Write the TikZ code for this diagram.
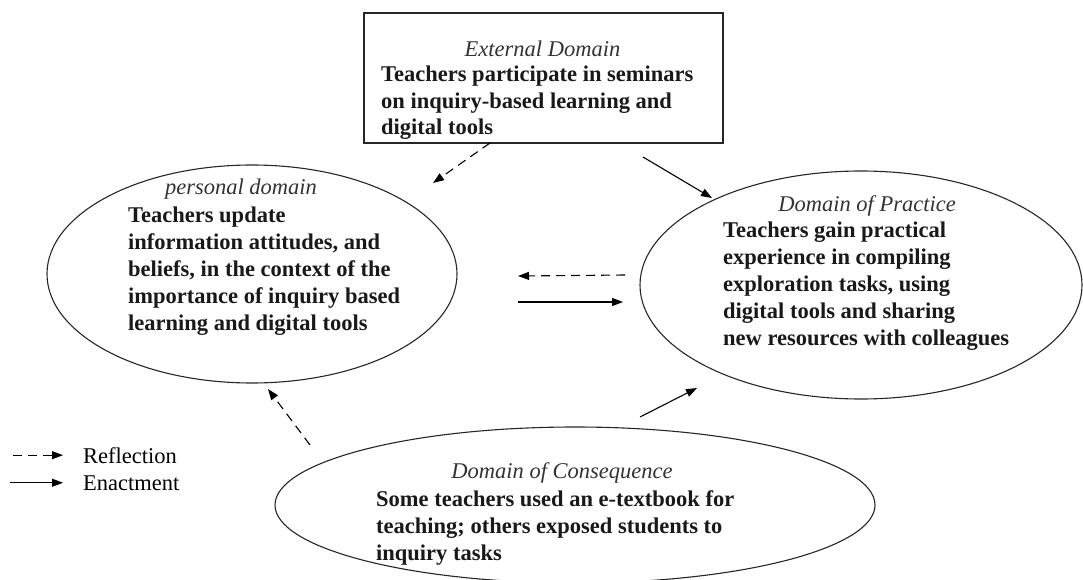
\documentclass[tikz,border=0pt]{standalone}
\usepackage{fontspec}
\setmainfont{Liberation Serif}
\usetikzlibrary{arrows.meta}
\usetikzlibrary{shapes.geometric}
\tikzset{domshape/.style={draw=black!85, line width=1.1pt, inner sep=0pt, outer sep=0pt},
	domtitle/.style={anchor=base, inner sep=0pt, font=\fontsize{22.5}{27}\selectfont\itshape, text=black!80},
	domtext/.style={anchor=base west, inner sep=0pt, align=left, font=\fontsize{22.5}{27}\selectfont\bfseries, text=black!90},
	reflect/.style={line width=1.1pt, dash pattern=on 9pt off 6pt, -{Triangle[length=11pt,width=8pt]}},
	enact/.style={line width=1.1pt, -{Triangle[length=11pt,width=8pt]}}}

\begin{document}
\begin{tikzpicture}[x=1pt,y=-1pt]
	\useasboundingbox (0,0) rectangle (1083,580);
	% domains
	\node[domshape, rectangle, minimum width=359pt, minimum height=130pt] (extdom) at (543.5,78) {};
	\node[domshape, ellipse, minimum width=410pt, minimum height=218pt] (persdom) at (252,274) {};
	\node[domshape, ellipse, minimum width=442pt, minimum height=228pt] (pracdom) at (861,285) {};
	\node[domshape, ellipse, minimum width=600pt, minimum height=156pt] (consdom) at (575,505) {};
	% texts (base west = last line)
	\node[domtitle] (exttitle) at (542.5,57) {External Domain};
	\node[domtext, font=\fontsize{22.5}{26.5}\selectfont\bfseries] (exttext) at (381,135) {Teachers participate in seminars\\ on inquiry-based learning and\\ digital tools};
	\node[domtitle] (perstitle) at (241,194) {personal domain};
	\node[domtext] (perstext) at (128,330) {Teachers update\\ information attitudes, and\\ beliefs, in the context of the\\ importance of inquiry based\\ learning and digital tools};
	\node[domtitle] (practitle) at (867,211) {Domain of Practice};
	\node[domtext] (practext) at (723,345) {Teachers gain practical\\ experience in compiling\\ exploration tasks, using\\ digital tools and sharing\\ new resources with colleagues};
	\node[domtitle] (constitle) at (562,478) {Domain of Consequence};
	\node[domtext] (constext) at (376,560) {Some teachers used an e-textbook for\\ teaching; others exposed students to\\ inquiry tasks};
	% arrows
	\draw[reflect] ([xshift=-53.5pt]extdom.south) -- ([shift={(181,-91)}]persdom.center);
	\draw[enact] ([shift={(99.5,14)}]extdom.south) -- ([shift={(-149,-87)}]pracdom.center);
	\draw[reflect] ([shift={(-236,-10)}]pracdom.center) -- ([shift={(266,2)}]persdom.center);
	\draw[enact] ([shift={(266,28)}]persdom.center) -- ([shift={(-238,17)}]pracdom.center);
	\draw[reflect] ([shift={(-265,-60)}]consdom.center) -- ([shift={(16,115)}]persdom.center);
	\draw[enact] ([shift={(65,-88)}]consdom.center) -- ([shift={(-164,103)}]pracdom.center);
	% legend
	\node[anchor=base west, inner sep=0pt, font=\fontsize{22.5}{27}\selectfont] (reflab) at (83,463) {Reflection};
	\node[anchor=base west, inner sep=0pt, font=\fontsize{22.5}{27}\selectfont] (enlab) at (83,490) {Enactment};
	\draw[reflect] ([xshift=-70pt]reflab.west) -- ([xshift=-20pt]reflab.west);
	\draw[enact] ([xshift=-73pt]enlab.west) -- ([xshift=-20pt]enlab.west);
\end{tikzpicture}
\end{document}
